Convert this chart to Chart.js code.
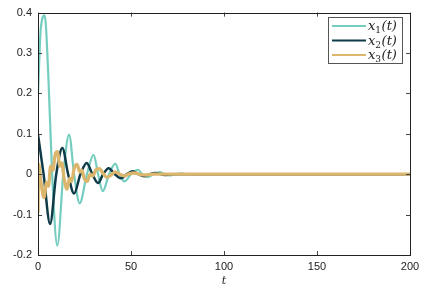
<!DOCTYPE html>
<html>
<head>
<meta charset="utf-8">
<script src="https://cdn.jsdelivr.net/npm/chart.js@4.4.0/dist/chart.umd.min.js"></script>
<style>
  body { margin: 0; background: #fff; }
</style>
</head>
<body>
<canvas id="stateChart" width="440" height="291"></canvas>
<script>
const xTicks = [0, 50, 100, 150, 200];
const yTicks = [-0.2, -0.1, 0, 0.1, 0.2, 0.3, 0.4];

const seriesNames = ['x₁(t)', 'x₂(t)', 'x₃(t)'];
const seriesSubs = ['1', '2', '3'];
const seriesColors = ['#74cdbf', '#0f3a48', '#dbb66c'];

// x1(t)
const x1T = [0, 1.5, 3.6, 5.5, 7.6, 10.4, 13.6, 16.7, 19.4, 22.4, 26.3, 29.9, 32.3, 34.8, 38.2, 41.6, 43.8, 46.5, 50, 53.8, 56, 59, 62, 65.5, 68, 71, 74, 77, 80, 200];
const x1V = [0.2, 0.36, 0.393, 0.25, 0, -0.177, 0, 0.098, 0, -0.072, 0, 0.048, 0, -0.042, 0, 0.026, 0, -0.018, 0, 0.011, 0, -0.007, 0, 0.005, 0, -0.003, 0, 0.002, 0, 0];

// x2(t)
const x2T = [0, 3, 6.5, 9.8, 13.1, 16.2, 19.4, 22.8, 26.2, 29.2, 32.3, 35, 38, 41.3, 44.6, 47.8, 51, 54, 57, 60, 63, 66, 69, 72, 200];
const x2V = [0.098, 0, -0.123, 0, 0.065, 0, -0.048, 0, 0.028, 0, -0.022, 0, 0.015, 0, -0.01, 0, 0.007, 0, -0.005, 0, 0.003, 0, -0.002, 0, 0];

// x3(t)
const x3T = [0, 0.3, 1.6, 3.2, 4.6, 5.6, 6.8, 8, 9.2, 10.4, 11.8, 12.8, 14, 15.6, 17, 18, 19.5, 21, 22.5, 23.5, 25, 26.5, 28, 29.5, 31, 33, 35, 37, 39, 41.5, 44, 46.5, 49, 52, 55, 58, 62, 200];
const x3V = [-0.095, 0.025, -0.02, -0.058, -0.02, -0.03, 0.02, 0.01, 0.048, 0.056, 0.02, 0.028, -0.01, -0.037, -0.01, -0.018, 0.015, 0.024, 0.005, 0.01, -0.012, -0.018, 0, -0.004, 0.01, 0.014, 0.002, -0.008, -0.003, 0.006, 0, -0.004, 0.001, 0.003, -0.001, -0.002, 0, 0];

const toPoints = (ts, vs) => ts.map((t, i) => ({ x: t, y: vs[i] }));

const makeSet = (i, ts, vs, width) => ({
    label: seriesNames[i],
    data: toPoints(ts, vs),
    borderColor: seriesColors[i],
    borderWidth: width,
    pointRadius: 0,
    cubicInterpolationMode: 'monotone',
    order: 3 - i,
    fill: false
});

// frame, inward ticks and the boxed legend
const framePlugin = {
    id: 'frame',
    afterDraw(chart) {
        const ctx = chart.ctx;
        const a = chart.chartArea;
        const xs = chart.scales.x;
        const ys = chart.scales.y;
        ctx.save();
        ctx.strokeStyle = '#444';
        ctx.lineWidth = 1;
        xTicks.forEach(v => {
            const px = Math.round(xs.getPixelForValue(v)) + 0.5;
            ctx.beginPath();
            ctx.moveTo(px, a.bottom); ctx.lineTo(px, a.bottom - 4);
            ctx.moveTo(px, a.top); ctx.lineTo(px, a.top + 4);
            ctx.stroke();
        });
        yTicks.forEach(v => {
            const py = Math.round(ys.getPixelForValue(v)) + 0.5;
            ctx.beginPath();
            ctx.moveTo(a.left, py); ctx.lineTo(a.left + 4, py);
            ctx.moveTo(a.right, py); ctx.lineTo(a.right - 4, py);
            ctx.stroke();
        });
        ctx.strokeStyle = '#222';
        ctx.strokeRect(Math.round(a.left) + 0.5, Math.round(a.top) + 0.5,
            Math.round(a.right - a.left), Math.round(a.bottom - a.top));

        // legend
        const lx = 328, ly = 17, lw = 74, lh = 46;
        ctx.fillStyle = '#fff';
        ctx.fillRect(lx, ly, lw, lh);
        ctx.strokeStyle = '#555';
        ctx.strokeRect(lx + 0.5, ly + 0.5, lw, lh);
        ctx.textBaseline = 'alphabetic';
        ctx.fillStyle = '#222';
        seriesNames.forEach((name, i) => {
            const y = ly + 9 + i * 14.5;
            ctx.strokeStyle = seriesColors[i];
            ctx.lineWidth = 2;
            ctx.beginPath();
            ctx.moveTo(lx + 4, y); ctx.lineTo(lx + 38, y);
            ctx.stroke();
            let tx = lx + 40;
            ctx.font = 'italic 13px "DejaVu Serif", serif';
            ctx.fillText('x', tx, y + 4);
            tx += ctx.measureText('x').width;
            ctx.font = '9px "DejaVu Serif", serif';
            ctx.fillText(seriesSubs[i], tx, y + 7);
            tx += ctx.measureText(seriesSubs[i]).width + 0.5;
            ctx.font = 'italic 13px "DejaVu Serif", serif';
            ctx.fillText('(t)', tx, y + 4);
        });
        ctx.restore();
    }
};

const ctx = document.querySelector('#stateChart').getContext('2d');
const stateChart = new Chart(ctx, {
    type: 'line',
    data: {
        datasets: [
            makeSet(0, x1T, x1V, 2.2),
            makeSet(1, x2T, x2V, 2.5),
            makeSet(2, x3T, x3V, 3.3)
        ]
    },
    options: {
        responsive: false,
        animation: false,
        layout: { padding: { top: 11, right: 30, left: 0, bottom: 0 } },
        plugins: { legend: { display: false }, tooltip: { enabled: false } },
        scales: {
            x: {
                type: 'linear',
                min: 0, max: 200,
                afterBuildTicks: s => { s.ticks = xTicks.map(v => ({ value: v })); },
                afterFit: s => { s.height = 36; },
                grid: { display: false, drawTicks: false },
                border: { display: false },
                ticks: { padding: 5, color: '#222', font: { family: '"Liberation Sans", Arial', size: 11 }, maxRotation: 0 },
                title: { display: true, text: 't', color: '#222', padding: { top: 0, bottom: 3 },
                    font: { family: '"DejaVu Serif", serif', style: 'italic', size: 11 } }
            },
            y: {
                min: -0.2, max: 0.4,
                afterBuildTicks: s => { s.ticks = yTicks.map(v => ({ value: v })); },
                afterFit: s => { s.width = 38; },
                grid: { display: false, drawTicks: false },
                border: { display: false },
                ticks: { padding: 6, color: '#222', font: { family: '"Liberation Sans", Arial', size: 11 },
                    callback: v => String(Math.round(v * 10) / 10) }
            }
        }
    },
    plugins: [framePlugin]
});
</script>
</body>
</html>
